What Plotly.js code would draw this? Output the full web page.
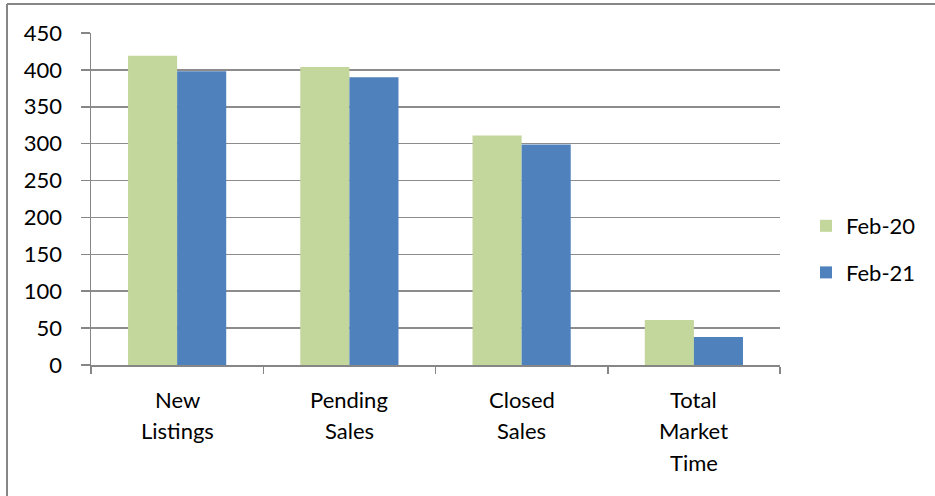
<!DOCTYPE html>
<html>
<head>
<meta charset="utf-8">
<script src="https://cdn.plot.ly/plotly-3.0.1.min.js"></script>
<style>html,body{margin:0;padding:0;background:#fff;}#chart{width:935px;height:496px;}</style>
</head>
<body>
<div id="chart"></div>
<script>
const categories = ["New Listings", "Pending Sales", "Closed Sales", "Total Market Time"];
const seriesNames = ["Feb-20", "Feb-21"];
const feb20 = [419, 404, 311, 61];
const feb21 = [398, 390, 299, 38];
const yTicks = [0, 50, 100, 150, 200, 250, 300, 350, 400, 450];

const FONT = "Lato, 'Open Sans', sans-serif";
const FS = 22;
const W = 935, H = 496;
const L = 91, R = 155, T = 33, B = 131;
const pw = W - L - R, ph = H - T - B;
const px2x = p => (p - L) / pw;
const py2y = p => (H - B - p) / ph;

const traces = [
  {type: "bar", name: seriesNames[0], x: categories, y: feb20,
   marker: {color: "#C3D69B", line: {width: 0}}, legendgroup: "a", hoverinfo: "x+y"},
  {type: "bar", name: seriesNames[1], x: categories, y: feb21,
   marker: {color: "#4F81BD", line: {width: 0}}, legendgroup: "b", hoverinfo: "x+y"}
];

const annotations = [];
const lineGap = 31.5;
categories.forEach(c => {
  const words = c.split(" ");
  words.forEach((w, i) => {
    annotations.push({
      xref: "x", yref: "paper", x: c, y: 0,
      yanchor: "middle", xanchor: "center",
      yshift: -(34 + i * lineGap),
      text: w, showarrow: false,
      font: {family: FONT, size: FS, color: "#000"}
    });
  });
});

const layout = {
  width: W, height: H,
  margin: {l: L, r: R, t: T, b: B},
  paper_bgcolor: "#fff", plot_bgcolor: "#fff",
  barmode: "group", bargap: 0.43, bargroupgap: 0,
  showlegend: true,
  legend: {x: px2x(806), xanchor: "left", y: py2y(249.5), yanchor: "middle",
           font: {family: FONT, size: FS, color: "#000"},
           tracegroupgap: 15, itemwidth: 30, bgcolor: "rgba(0,0,0,0)"},
  xaxis: {type: "category", showticklabels: false, ticks: "outside", tickson: "boundaries",
          ticklen: 7, tickcolor: "#868686", tickwidth: 1.5,
          showline: true, linecolor: "#868686", linewidth: 1.5, showgrid: false, zeroline: false,
          fixedrange: true},
  yaxis: {range: [0, 450], tickvals: yTicks, ticktext: yTicks.map(String),
          ticks: "outside", ticklen: 9, tickcolor: "#868686", tickwidth: 1.5,
          showline: true, linecolor: "#868686", linewidth: 1.5,
          showgrid: true, gridcolor: "#8c8c8c", gridwidth: 1.5, zeroline: false,
          ticklabelstandoff: 14,
          tickfont: {family: FONT, size: FS, color: "#000"}, fixedrange: true},
  annotations: annotations,
  shapes: [
    {type: "line", xref: "paper", yref: "paper",
     x0: px2x(7), x1: px2x(935), y0: py2y(4), y1: py2y(4),
     line: {color: "#868686", width: 2}, layer: "below"},
    {type: "line", xref: "paper", yref: "paper",
     x0: px2x(7), x1: px2x(7), y0: py2y(4), y1: py2y(496),
     line: {color: "#868686", width: 2}, layer: "below"}
  ]
};

Plotly.newPlot("chart", traces, layout, {displayModeBar: false, staticPlot: true});
</script>
</body>
</html>
